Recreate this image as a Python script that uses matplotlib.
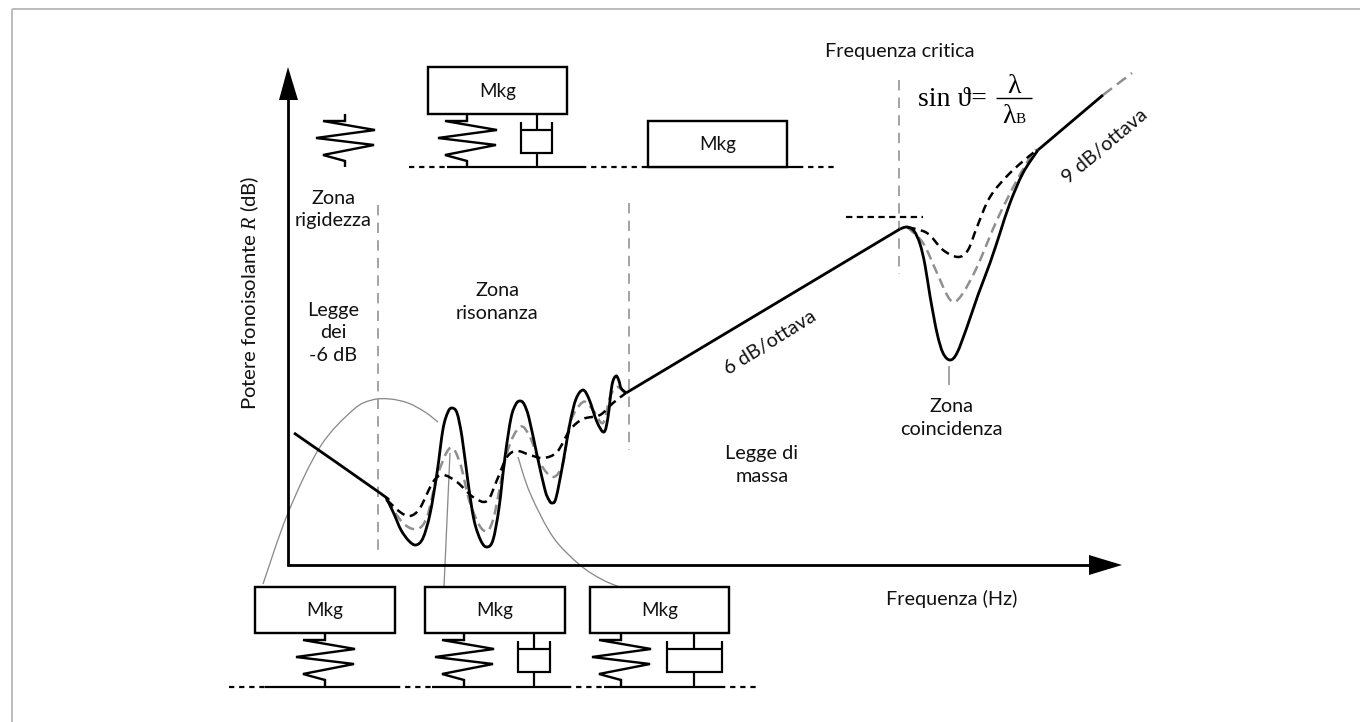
import matplotlib
matplotlib.use("Agg")
import matplotlib.pyplot as plt
from matplotlib.path import Path
from matplotlib.patches import PathPatch, Polygon, Rectangle

plt.rcParams['font.family'] = ['Lato', 'DejaVu Sans']
plt.rcParams['mathtext.fontset'] = 'custom'
plt.rcParams['mathtext.it'] = 'Liberation Serif:italic'
plt.rcParams['mathtext.rm'] = 'Lato'

# ---- curves (x = frequency position, y = level position)
solid_x = [294, 380, 387, 394, 401, 409, 416, 423, 430, 437, 443, 448, 452, 457, 462, 468, 474, 481,
           487, 493, 499, 505, 511, 516, 520, 524, 529, 537, 545, 549, 552, 556, 563, 570, 576, 583,
           589, 597, 604, 608, 612, 616, 619, 621, 626]
solid_y = [433, 493, 500, 514, 530, 541, 545, 538, 514, 473, 429, 412, 408, 413, 437, 482, 520, 541,
           547, 540, 508, 457, 418, 404, 401, 404, 418, 455, 490, 500, 503, 498, 463, 423, 399, 390,
           399, 422, 432, 417, 385, 376, 381, 388, 393]
mass_x = [626, 900]
mass_y = [393, 229]
coin_x = [900, 907, 914, 920, 925, 930, 937, 943, 950, 957, 967, 978, 990, 1000, 1010, 1023, 1038]
coin_y = [229, 227, 231, 244, 265, 296, 333, 353, 360, 353, 327, 295, 263, 233, 203, 173, 150]
tail_x = [1038, 1103]
tail_y = [150, 95]
tail_grey_x = [1103, 1132]
tail_grey_y = [95, 73]

res_grey_x = [387, 403, 417, 427, 437, 450, 460, 470, 483, 493, 507, 520, 530, 540, 553, 563, 570,
              583, 593, 603, 610, 617, 625]
res_grey_y = [500, 523, 529, 517, 477, 448, 463, 503, 530, 520, 453, 427, 437, 463, 477, 463, 423,
              402, 410, 423, 397, 387, 393]
res_black_x = [387, 400, 410, 420, 433, 443, 457, 473, 487, 497, 507, 517, 530, 543, 557, 570, 583,
               600, 613, 626]
res_black_y = [500, 512, 516, 508, 482, 475, 482, 497, 501, 480, 457, 451, 455, 458, 452, 430, 419,
               415, 403, 393]
coin_grey_x = [907, 923, 937, 947, 954, 963, 977, 997, 1017, 1033, 1038]
coin_grey_y = [227, 243, 273, 295, 302, 293, 267, 220, 180, 153, 150]
coin_black_x = [907, 927, 943, 958, 968, 977, 990, 1010, 1033, 1038]
coin_black_y = [227, 233, 250, 257, 250, 227, 197, 173, 153, 150]

lead1_x = [263, 288, 320, 353, 372, 390, 408, 425, 438]
lead1_y = [584, 513, 447, 410, 400, 399, 403, 412, 422]
lead2_x = [450, 444]
lead2_y = [453, 587]
lead3_x = [518, 530, 553, 580, 603, 625]
lead3_y = [457, 493, 537, 565, 580, 589]

# vertical markers: x, y start, y end
guides = [(378, 205, 552), (629, 203, 450), (899, 80, 274)]

# mechanical sketches
bottom_boxes = [(255, 587, 140, 46), (425, 587, 140, 46), (590, 587, 139, 46)]
top_boxes = [(428, 67, 139, 47), (648, 121, 139, 46)]
bottom_springs = [325, 464, 621]
bottom_dampers = [(534, 518, 550), (694, 667, 722)]
ground_bottom = [(265, 395), (432, 566), (604, 720)]
ground_bottom_dots = [(229, 265), (395, 432), (566, 604), (720, 760)]
ground_top = [(447, 581), (648, 798)]
ground_top_dots = [(409, 447), (581, 648), (798, 835)]

labels = [
    ("Frequenza critica", 900, 52, 'center', 0),
    ("Zona\nrigidezza", 333, 209.5, 'center', 0),
    ("Legge\ndei\n-6 dB", 333, 333, 'center', 0),
    ("Zona\nrisonanza", 497, 302, 'center', 0),
    ("Legge di\nmassa", 762, 465, 'center', 0),
    ("Zona\ncoincidenza", 951, 418, 'center', 0),
    ("6 dB/ottava", 770, 343, 'center', 32),
    ("9 dB/ottava", 1105, 146, 'center', 40),
    ("Frequenza (Hz)", 952, 599, 'center', 0),
    ("Potere fonoisolante $\\mathit{R}$ (dB)", 250, 293, 'center', 90),
]

BLACK = '#000000'
GREY = '#8f8f8f'
PX = 0.72
FS = 14.3

fig = plt.figure(figsize=(13.6, 7.22), dpi=100)
ax = fig.add_axes([0, 0, 1, 1])
ax.set_xlim(0, 1360)
ax.set_ylim(722, 0)
ax.axis('off')


def smooth(xs, ys, color=BLACK, lw=2.6, dash=None, z=3):
    pts = list(zip(xs, ys))
    verts = [pts[0]]
    codes = [Path.MOVETO]
    for i in range(len(pts) - 1):
        p0 = pts[max(i - 1, 0)]
        p1 = pts[i]
        p2 = pts[i + 1]
        p3 = pts[min(i + 2, len(pts) - 1)]
        c1 = (p1[0] + (p2[0] - p0[0]) / 6, p1[1] + (p2[1] - p0[1]) / 6)
        c2 = (p2[0] - (p3[0] - p1[0]) / 6, p2[1] - (p3[1] - p1[1]) / 6)
        verts += [c1, c2, p2]
        codes += [Path.CURVE4] * 3
    patch = PathPatch(Path(verts, codes), fill=False, edgecolor=color, lw=lw * PX, zorder=z,
                      capstyle='butt', joinstyle='round')
    if dash:
        patch.set_linestyle((0, dash))
    ax.add_patch(patch)


def line(xs, ys, lw=2.2, color=BLACK, dash=None, z=4):
    l, = ax.plot(xs, ys, color=color, lw=lw * PX, solid_capstyle='butt', zorder=z,
                 solid_joinstyle='miter')
    if dash:
        l.set_linestyle((0, dash))
        l.set_dash_capstyle('butt')


def spring(x, y0, y1):
    xs = [x, x, x - 22, x + 30, x - 29, x + 29, x - 22, x, x]
    ys = [y0, y0 + 7, y0 + 7, y0 + 16, y0 + 24, y0 + 31, y0 + 41, y0 + 47, y1]
    line(xs, ys, lw=2.4)


def damper(x, left, right, y0, y1):
    cup_top = y0 + 8
    cross = y0 + 16
    bot = y0 + 39
    line([x, x], [y0, cross])
    line([left, left, right, right], [cup_top, bot, bot, cup_top])
    line([left, right], [cross, cross])
    line([x, x], [bot, y1])


def box(x, y, w, h, text):
    ax.add_patch(Rectangle((x, y), w, h, fill=True, facecolor='white', edgecolor=BLACK,
                           lw=2.4 * PX, zorder=5))
    ax.text(x + w / 2, y + h / 2 + 0.5, text, ha='center', va='center', fontsize=13.5, zorder=6,
            color='#111111')


# frame on top and left edges
line([11.5, 11.5], [722, 8.5], lw=2, color='#bdbdbd', z=1)
line([11.5, 1360], [8.5, 8.5], lw=2, color='#bdbdbd', z=1)

# thin leaders
smooth(lead1_x, lead1_y, color='#8a8a8a', lw=1.3, z=2)
smooth(lead2_x, lead2_y, color='#8a8a8a', lw=1.3, z=2)
smooth(lead3_x, lead3_y, color='#8a8a8a', lw=1.3, z=2)

# guides
for gx, y0, y1 in guides:
    line([gx, gx], [y0, y1], lw=1.6, color=GREY, dash=(6.5, 4.5), z=2)
line([949, 949], [366, 385], lw=1.6, color=GREY, z=2)
line([846, 923], [217, 217], lw=2.2, dash=(2.9, 2.0), z=3)

# axes
line([288, 288], [566, 98], lw=2.8)
line([287, 1092], [565, 565], lw=2.8)
ax.add_patch(Polygon([(279, 100), (288, 67), (298, 100)], closed=True, color=BLACK, lw=0, zorder=5))
ax.add_patch(Polygon([(1089, 555), (1122, 565), (1089, 575)], closed=True, color=BLACK, lw=0, zorder=5))

# curves
smooth(res_grey_x, res_grey_y, color=GREY, lw=2.5, dash=(4.0, 2.2), z=3)
smooth(coin_grey_x, coin_grey_y, color=GREY, lw=2.5, dash=(4.0, 2.2), z=3)
line(tail_grey_x, tail_grey_y, lw=2.5, color=GREY, dash=(4.5, 2.5), z=3)
smooth(res_black_x, res_black_y, lw=2.5, dash=(3.5, 2.2), z=4)
smooth(coin_black_x, coin_black_y, lw=2.5, dash=(3.5, 2.2), z=4)
smooth(solid_x, solid_y, lw=2.8, z=5)
line(mass_x, mass_y, lw=2.8, z=5)
smooth(coin_x, coin_y, lw=2.8, z=5)
line(tail_x, tail_y, lw=2.8, z=5)

# bottom sketches
for b in bottom_boxes:
    box(*b, "Mkg")
for sx in bottom_springs:
    spring(sx, 633, 687)
for dx, l, r in bottom_dampers:
    damper(dx, l, r, 633, 687)
for a, b in ground_bottom:
    line([a, b], [687, 687], lw=2.2)
for a, b in ground_bottom_dots:
    line([a, b], [687, 687], lw=2.2, dash=(2.4, 2.2))

# top sketches
for b in top_boxes:
    box(*b, "Mkg")
spring(345, 114, 167)
spring(467, 114, 167)
damper(537, 521, 552, 114, 167)
for a, b in ground_top:
    line([a, b], [167, 167], lw=2.2)
for a, b in ground_top_dots:
    line([a, b], [167, 167], lw=2.2, dash=(2.4, 2.2))

# labels
for txt, x, y, ha, rot in labels:
    ax.text(x, y, txt, ha=ha, va='center', rotation=rot, rotation_mode='anchor',
            fontsize=14.6 if rot == 90 else FS, color='#111111', linespacing=1.375,
            multialignment='center')

# formula
SERIF = ['Liberation Serif', 'DejaVu Serif']
ax.text(918, 106, "sin \u03d1=", family=SERIF, fontsize=20, ha='left', va='baseline', color='black')
ax.text(1014, 93, "\u03bb", family=SERIF, fontsize=20, ha='center', va='baseline', color='black')
ax.text(1002, 123, "\u03bb", family=SERIF, fontsize=20, ha='left', va='baseline', color='black')
ax.text(1016, 123, "B", family=SERIF, fontsize=11, ha='left', va='baseline', color='black')
line([996, 1032], [98, 98], lw=1.4)

fig.savefig("out.png", dpi=100, facecolor='white')
